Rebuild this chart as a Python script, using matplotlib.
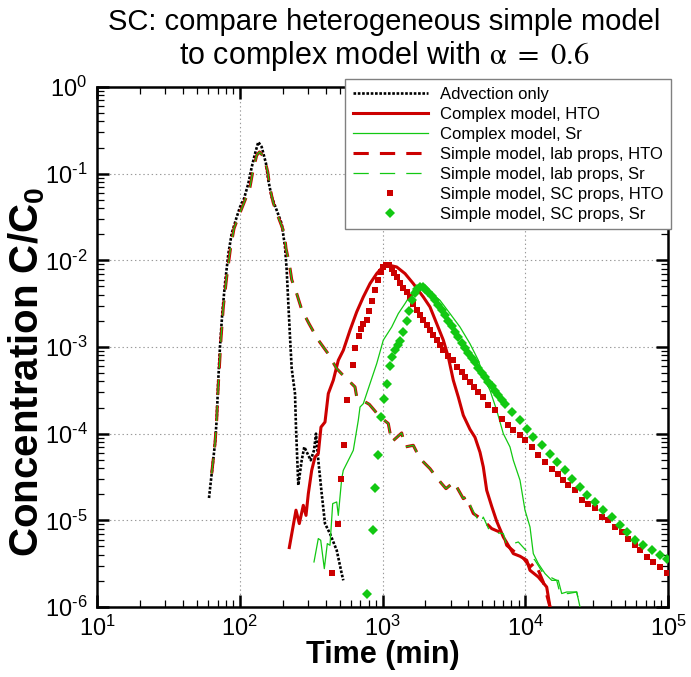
import matplotlib
matplotlib.use("Agg")
import matplotlib.pyplot as plt
from matplotlib.ticker import FixedLocator, FixedFormatter, LogLocator, NullFormatter

plt.rcParams['font.family'] = ['Liberation Sans', 'DejaVu Sans']
plt.rcParams['mathtext.fontset'] = 'custom'
plt.rcParams['mathtext.rm'] = 'Liberation Sans'
plt.rcParams['mathtext.it'] = 'Liberation Sans:italic'
plt.rcParams['mathtext.bf'] = 'Liberation Sans:bold'
plt.rcParams['lines.scale_dashes'] = False
plt.rcParams['axes.unicode_minus'] = False

# ---------------- data ----------------
adv_t = [60.9, 63.6, 67.1, 68.9, 70.7, 72.7, 75.4, 78.8, 83.2, 87.8, 95.2, 100.4, 107.1, 114.8,
         121.3, 127.9, 134.9, 142.5, 152.7, 158.5, 167.4, 181.5, 196.7, 207.5, 213.3, 218.9,
         224.9, 231.2, 243.8, 247.7, 253.0, 257.1, 271.6, 283.3, 302.2, 314.1, 331.2, 342.1,
         355.0, 375.0, 395.5, 428.7, 477.8, 517.9, 531.4]
adv_c = [1.81e-5, 3.46e-5, 7.74e-5, 1.43e-4, 4.13e-4, 1.0e-3, 2.43e-3, 5.39e-3, 1.19e-2,
         2.04e-2, 3.16e-2, 4.12e-2, 5.15e-2, 7.68e-2, 0.119, 0.170, 0.232, 0.203, 0.131,
         0.0838, 0.0538, 0.0378, 0.0265, 0.0143, 7.67e-3, 3.17e-3, 1.31e-3, 5.63e-4, 2.90e-4,
         1.19e-4, 4.93e-5, 2.54e-5, 4.93e-5, 7.02e-5, 5.63e-5, 4.93e-5, 6.43e-5, 1.0e-4,
         4.93e-5, 2.04e-5, 9.17e-6, 7.03e-6, 4.51e-6, 2.43e-6, 2.03e-6]

cx_hto_t = [222.4, 247.7, 261.4, 278.7, 291.2, 302.2, 319.2, 336.6, 355.0, 370.7, 395.5, 417.2,
            452.1, 490.2, 531.4, 592.0, 659.6, 733.8, 817.4, 910.9, 1013, 1080, 1258, 1438,
            1643, 1931, 2151, 2397, 2667, 2891, 3133, 3396, 3681, 4102, 4446, 4820, 5083,
            5370, 5821, 6310, 7020, 7607, 8249, 9190, 10237, 10797, 12343, 14131, 14907]
cx_hto_c = [4.85e-6, 1.31e-5, 9.17e-6, 1.49e-5, 1.14e-5, 2.03e-5, 3.78e-5, 5.38e-5, 5.89e-5,
            1.19e-4, 1.36e-4, 2.90e-4, 4.13e-4, 7.03e-4, 9.16e-4, 1.56e-3, 2.54e-3, 3.78e-3,
            5.39e-3, 7.03e-3, 8.53e-3, 8.9e-3, 8.38e-3, 7.03e-3, 5.39e-3, 3.78e-3, 2.90e-3,
            1.86e-3, 1.20e-3, 7.67e-4, 4.13e-4, 2.65e-4, 1.63e-4, 1.12e-4, 9.08e-5, 6.10e-5,
            4.13e-5, 2.22e-5, 1.45e-5, 9.75e-6, 6.43e-6, 5.15e-6, 4.13e-6, 3.85e-6, 3.46e-6,
            2.65e-6, 2.22e-6, 1.70e-6, 1.0e-6]

cx_sr_t = [331.2, 355.0, 369.1, 391.2, 410.6, 428.7, 447.8, 477.8, 490.2, 517.9, 531.4, 592.0,
           624.5, 676.9, 695.8, 733.8, 817.4, 910.9, 1013, 1160, 1290, 1438, 1643, 1882, 2151,
           2528, 2971, 3491, 4102, 4691, 5224, 5662, 6310, 7020, 7819, 8249, 9190, 9959,
           10797, 11387, 12343, 13753, 15323, 17044, 18008, 19521, 22930, 24188]
cx_sr_c = [3.31e-6, 6.16e-6, 5.89e-6, 2.77e-6, 5.39e-6, 5.15e-6, 1.56e-5, 1.63e-5, 1.14e-5,
           3.03e-5, 3.78e-5, 5.38e-5, 6.43e-5, 1.43e-4, 2.03e-4, 2.22e-4, 3.78e-4, 6.43e-4,
           1.20e-3, 1.70e-3, 2.43e-3, 3.17e-3, 4.51e-3, 5.15e-3, 4.31e-3, 3.46e-3, 2.43e-3,
           1.70e-3, 1.09e-3, 7.03e-4, 4.13e-4, 3.17e-4, 1.86e-4, 1.0e-4, 7.02e-5, 4.93e-5,
           2.90e-5, 1.31e-5, 8.38e-6, 4.13e-6, 3.17e-6, 2.43e-6, 2.03e-6, 2.03e-6, 1.43e-6,
           1.49e-6, 1.49e-6, 1.0e-6]

lab_hto_t = [63.6, 67.1, 68.9, 70.7, 72.1, 73.9, 76.7, 81.0, 86.4, 91.1, 97.7, 108.8, 118.0,
             124.4, 131.5, 137.5, 147.9, 157.0, 162.9, 171.8, 186.2, 205.1, 210.9, 222.4,
             231.2, 250.6, 271.6, 305.6, 351.6, 410.6, 477.8, 528.8, 592.0, 641.8, 659.6,
             808.1, 960.5, 1098, 1160, 1363, 1438, 1643, 1831, 2151, 2459, 2785, 3168, 3309,
             3681, 3926, 3990, 4325, 5083, 5821, 7020, 7413, 8710, 9489, 10797, 11703, 13378,
             14907]
lab_hto_c = [3.46e-5, 7.74e-5, 1.43e-4, 3.61e-4, 6.15e-4, 1.25e-3, 2.90e-3, 6.43e-3, 1.43e-2,
             2.32e-2, 3.16e-2, 4.93e-2, 7.02e-2, 0.114, 0.163, 0.178, 0.156, 0.105, 0.0673,
             0.0459, 0.0316, 0.0207, 0.0137, 9.17e-3, 5.99e-3, 4.13e-3, 2.70e-3, 1.86e-3,
             1.23e-3, 8.62e-4, 5.63e-4, 4.72e-4, 3.95e-4, 3.46e-4, 2.65e-4, 2.18e-4, 1.56e-4,
             1.31e-4, 8.02e-5, 1.02e-4, 7.02e-5, 7.34e-5, 5.16e-5, 3.95e-5, 2.95e-5, 2.32e-5,
             2.77e-5, 2.43e-5, 1.78e-5, 1.89e-5, 1.63e-5, 1.20e-5, 1.0e-5, 8.03e-6, 7.03e-6,
             5.15e-6, 4.13e-6, 3.85e-6, 2.90e-6, 3.28e-6, 1.94e-6, 1.0e-6]

lab_sr_t = [63.6, 67.1, 68.9, 70.7, 72.1, 73.9, 76.7, 81.0, 86.4, 91.1, 97.7, 108.8, 118.0,
            124.4, 131.5, 137.5, 147.9, 157.0, 162.9, 171.8, 186.2, 205.1, 210.9, 222.4,
            231.2, 250.6, 271.6, 305.6, 351.6, 410.6, 477.8, 528.8, 592.0, 641.8, 659.6,
            808.1, 960.5, 1098, 1160, 1363, 1438, 1643, 1831, 2151, 2459, 2785, 3168, 3309,
            3681, 3926, 3990, 4820, 5083, 5662, 7020, 7413, 8249, 8940, 11703, 13378, 16612,
            17516, 20024, 22930, 24188]
lab_sr_c = [3.46e-5, 7.74e-5, 1.43e-4, 3.61e-4, 6.15e-4, 1.25e-3, 2.90e-3, 6.43e-3, 1.43e-2,
            2.32e-2, 3.16e-2, 4.93e-2, 7.02e-2, 0.114, 0.163, 0.178, 0.156, 0.105, 0.0673,
            0.0459, 0.0316, 0.0207, 0.0137, 9.17e-3, 5.99e-3, 4.13e-3, 2.70e-3, 1.86e-3,
            1.23e-3, 8.62e-4, 5.63e-4, 4.72e-4, 3.95e-4, 3.46e-4, 2.65e-4, 2.18e-4, 1.56e-4,
            1.31e-4, 8.02e-5, 1.02e-4, 7.02e-5, 7.34e-5, 5.16e-5, 3.95e-5, 2.95e-5, 2.32e-5,
            2.77e-5, 2.43e-5, 1.78e-5, 1.89e-5, 1.63e-5, 9.17e-6, 1.09e-5, 7.34e-6, 7.03e-6,
            5.15e-6, 5.39e-6, 5.63e-6, 3.46e-6, 2.43e-6, 2.03e-6, 1.43e-6, 1.43e-6, 1.49e-6,
            1.0e-6]

sc_hto_t = [444.9, 487.9, 512.1, 534.8, 561.3, 618.3, 641.8, 681.3, 707.1, 733.8, 775.0, 808.1,
            848.5, 890.6, 934.6, 971.4, 1013, 1058, 1110, 1160, 1210, 1258, 1326, 1398, 1477,
            1558, 1643, 1736, 1831, 1931, 2040, 2151, 2269, 2397, 2528, 2667, 2891, 3103,
            3309, 3587, 3785, 4102, 4375, 4691, 5035, 5511, 6138, 6839, 7607, 8249, 9190,
            9959, 11110, 12343, 13753, 15323, 17044, 18479, 20024, 22310, 24855, 27652,
            30812, 34329, 38172, 42539, 47382, 52723, 58738, 63680, 70940, 78886, 87902,
            97950]
sc_hto_c = [2.47e-6, 9.0e-6, 3.03e-5, 7.40e-5, 2.47e-4, 6.27e-4, 9.85e-4, 1.33e-3, 1.60e-3,
            1.83e-3, 2.07e-3, 2.60e-3, 3.37e-3, 4.51e-3, 5.99e-3, 7.34e-3, 8.38e-3, 8.93e-3,
            8.77e-3, 8.03e-3, 7.14e-3, 6.43e-3, 5.48e-3, 4.85e-3, 4.31e-3, 3.78e-3, 3.17e-3,
            2.65e-3, 2.32e-3, 2.03e-3, 1.78e-3, 1.56e-3, 1.36e-3, 1.22e-3, 1.05e-3, 9.16e-4,
            7.81e-4, 7.03e-4, 5.88e-4, 5.15e-4, 4.51e-4, 3.95e-4, 3.46e-4, 3.03e-4, 2.65e-4,
            2.13e-4, 1.86e-4, 1.49e-4, 1.25e-4, 1.09e-4, 9.58e-5, 8.39e-5, 7.02e-5, 5.63e-5,
            4.71e-5, 3.95e-5, 3.46e-5, 2.90e-5, 2.54e-5, 2.22e-5, 1.70e-5, 1.56e-5, 1.37e-5,
            1.09e-5, 1.0e-5, 8.38e-6, 7.34e-6, 6.16e-6, 5.15e-6, 4.51e-6, 3.78e-6, 3.31e-6,
            2.90e-6, 2.5e-6]

sc_sr_t = [775.0, 854, 892, 934.6, 980.8, 1029, 1080, 1129, 1171, 1223, 1278, 1326, 1385, 1477,
           1541, 1617, 1689, 1752, 1831, 1912, 1985, 2094, 2212, 2332, 2459, 2598, 2741, 2891,
           3053, 3221, 3396, 3587, 3785, 3990, 4216, 4446, 4691, 4955, 5224, 5511, 5821, 6138,
           6475, 6839, 7211, 8036, 9190, 10237, 11387, 13045, 14907, 16612, 18992, 21156,
           24188, 26942, 30812, 35217, 40340, 46108, 51357, 58738, 67140, 76880, 87902, 97950]
sc_sr_c = [1.43e-6, 7.68e-6, 2.34e-5, 5.68e-5, 1.57e-4, 2.54e-4, 3.78e-4, 5.99e-4, 7.67e-4,
           9.16e-4, 1.05e-3, 1.17e-3, 1.49e-3, 1.98e-3, 2.60e-3, 3.46e-3, 4.20e-3, 4.72e-3,
           4.93e-3, 4.93e-3, 4.72e-3, 4.31e-3, 3.88e-3, 3.46e-3, 3.03e-3, 2.65e-3, 2.32e-3,
           2.0e-3, 1.73e-3, 1.49e-3, 1.30e-3, 1.11e-3, 9.74e-4, 8.53e-4, 7.55e-4, 6.66e-4,
           5.79e-4, 5.01e-4, 4.51e-4, 3.95e-4, 3.52e-4, 3.11e-4, 2.77e-4, 2.47e-4, 2.22e-4,
           1.78e-4, 1.43e-4, 1.14e-4, 9.16e-5, 7.34e-5, 5.89e-5, 4.71e-5, 3.78e-5, 3.03e-5,
           2.43e-5, 1.95e-5, 1.63e-5, 1.31e-5, 1.09e-5, 8.77e-6, 7.34e-6, 5.89e-6, 5.16e-6,
           4.51e-6, 3.95e-6, 3.62e-6]

series_labels = ["Advection only", "Complex model, HTO", "Complex model, Sr",
                 "Simple model, lab props, HTO", "Simple model, lab props, Sr",
                 "Simple model, SC props, HTO", "Simple model, SC props, Sr"]
x_ticks = [1e1, 1e2, 1e3, 1e4, 1e5]
x_tick_labels = ["10$^{1}$", "10$^{2}$", "10$^{3}$", "10$^{4}$", "10$^{5}$"]
y_ticks = [1e-6, 1e-5, 1e-4, 1e-3, 1e-2, 1e-1, 1e0]
y_tick_labels = [r"10$^{\text{-}6}$", r"10$^{\text{-}5}$", r"10$^{\text{-}4}$",
                 r"10$^{\text{-}3}$", r"10$^{\text{-}2}$", r"10$^{\text{-}1}$", "10$^{0}$"]
title_line1 = "SC: compare heterogeneous simple model"
title_line2 = r"to complex model with $\mathrm{\alpha}\ =\ \mathrm{0.6}$"
x_label = "Time (min)"
y_label = r"Concentration C/C$_\mathbf{0}$"

# ---------------- figure ----------------
RED = '#CC0000'
GREEN = '#12C812'
W, H = 691, 677
fig = plt.figure(figsize=(W / 100, H / 100), dpi=100)
ax = fig.add_axes([97 / W, (H - 607) / H, 571 / W, 520 / H])

ax.plot(adv_t, adv_c, color='black', lw=1.9, ls=(0, (1.9, 1.2)),
        dash_capstyle='butt', label=series_labels[0], zorder=3)
ax.plot(cx_hto_t, cx_hto_c, color=RED, lw=2.2, label=series_labels[1], zorder=3)
ax.plot(cx_sr_t, cx_sr_c, color=GREEN, lw=0.9, label=series_labels[2], zorder=3)
ax.plot(lab_hto_t, lab_hto_c, color=RED, lw=2.2, ls=(0, (11, 8)),
        dash_capstyle='butt', label=series_labels[3], zorder=3)
ax.plot(lab_sr_t, lab_sr_c, color=GREEN, lw=0.9, ls=(0, (11, 8)),
        dash_capstyle='butt', label=series_labels[4], zorder=3)
ax.plot(sc_hto_t, sc_hto_c, ls='none', marker='s', ms=4.8, color=RED, mec=RED, mew=0,
        label=series_labels[5], zorder=4)
ax.plot(sc_sr_t, sc_sr_c, ls='none', marker='D', ms=5.2, color=GREEN, mec=GREEN, mew=0,
        label=series_labels[6], zorder=5)

ax.set_xscale('log')
ax.set_yscale('log')
ax.set_xlim(1e1, 1e5)
ax.set_ylim(1e-6, 1e0)

ax.xaxis.set_major_locator(FixedLocator(x_ticks))
ax.xaxis.set_major_formatter(FixedFormatter(x_tick_labels))
ax.yaxis.set_major_locator(FixedLocator(y_ticks))
ax.yaxis.set_major_formatter(FixedFormatter(y_tick_labels))
ax.xaxis.set_minor_locator(LogLocator(base=10, subs=range(2, 10), numticks=20))
ax.yaxis.set_minor_locator(LogLocator(base=10, subs=range(2, 10), numticks=20))
ax.xaxis.set_minor_formatter(NullFormatter())
ax.yaxis.set_minor_formatter(NullFormatter())

ax.tick_params(which='major', direction='in', length=8.5, width=1.8, top=True, right=True,
               labelsize=17, pad=6)
ax.tick_params(which='minor', direction='in', length=5, width=0.9, top=True, right=True)
ax.tick_params(axis='y', which='major', pad=7)
for sp in ax.spines.values():
    sp.set_linewidth(1.8)

ax.grid(which='major', color='#9a9a9a', ls=(0, (1, 2)), lw=0.8)
ax.set_axisbelow(True)

ax.set_xlabel(x_label, fontsize=22, fontweight='bold')
ax.xaxis.set_label_coords(0.5, -(655 - 607) / 520)
ax.xaxis.label.set_va('center')
ax.set_ylabel(y_label, fontsize=29, fontweight='bold')
ax.yaxis.set_label_coords(-(97 - 27) / 571, (607 - 372) / 520)
ax.yaxis.label.set_va('center')

fig.text(384 / W, 1 - 22 / H, title_line1, ha='center', va='center', fontsize=21)
fig.text(384 / W, 1 - 56 / H, title_line2, ha='center', va='center', fontsize=22,
         math_fontfamily='stix')

leg = ax.legend(loc='upper right', bbox_to_anchor=(671 / W, 1 - 79 / H),
                bbox_transform=fig.transFigure, borderaxespad=0, fontsize=12,
                handlelength=4.5, handletextpad=0.75, labelspacing=0.3, borderpad=0.45,
                fancybox=False, framealpha=1, edgecolor='#808080', numpoints=1)
leg.get_frame().set_linewidth(1.0)
leg.set_zorder(10)

fig.savefig('out.png', dpi=100)
